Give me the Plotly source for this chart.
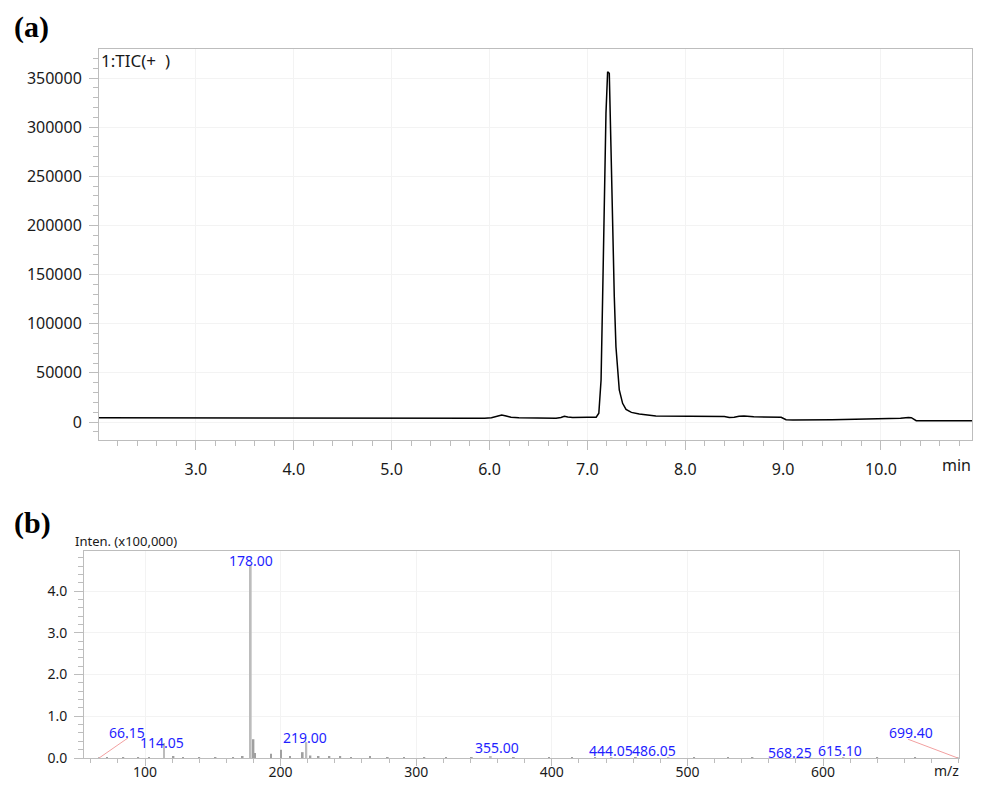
import plotly.graph_objects as go

# ---------------- data ----------------
# (a) TIC chromatogram
tic_time = [2.01, 2.5, 3.0, 3.5, 4.0, 4.5, 5.0, 5.5, 5.95, 6.02, 6.08, 6.125, 6.17, 6.22,
            6.3, 6.5, 6.68, 6.73, 6.765, 6.8, 6.85, 7.0, 7.09, 7.117, 7.14, 7.156, 7.173,
            7.19, 7.207, 7.224, 7.241, 7.258, 7.275, 7.292, 7.31, 7.326, 7.36, 7.395,
            7.45, 7.53, 7.7, 7.9, 8.1, 8.3, 8.4, 8.45, 8.5, 8.55, 8.6, 8.7, 8.9, 8.98,
            9.03, 9.1, 9.5, 10.0, 10.2, 10.28, 10.31, 10.36, 10.5, 10.64, 10.67, 10.7, 10.93]
tic_intensity = [4300, 4200, 4100, 4000, 3900, 3900, 3900, 3800, 3800, 4300, 6200, 7100, 6200, 4800,
                 4300, 3900, 3800, 4600, 5800, 5000, 4700, 4800, 4900, 8900, 42700, 127500, 229000,
                 314000, 356400, 354800, 280000, 195400, 127500, 76600, 49500, 32600, 19000, 12900,
                 9800, 8100, 6100, 5800, 5600, 5500, 5700, 4600, 4800, 5900, 6100, 5400, 5100, 4800,
                 2300, 2100, 2400, 3200, 3800, 4600, 4400, 1300, 1200, 1300, 1800, 1300, 1200]
tic_xticks = [3, 4, 5, 6, 7, 8, 9, 10]
tic_xticklabels = ["3.0", "4.0", "5.0", "6.0", "7.0", "8.0", "9.0", "10.0"]
tic_yticks = [0, 50000, 100000, 150000, 200000, 250000, 300000, 350000]

# (b) mass spectrum (intensity in x100,000)
peak_mz = [66.15, 114.05, 178.00, 219.00, 355.00, 444.05, 486.05, 568.25, 615.10, 699.40]
peak_int = [0.005, 0.36, 4.62, 0.38, 0.03, 0.02, 0.02, 0.01, 0.02, 0.005]
peak_labels = ["66.15", "114.05", "178.00", "219.00", "355.00", "444.05", "486.05",
               "568.25", "615.10", "699.40"]

minor_mz = [72, 84, 95, 103, 121, 128, 140, 152, 165, 172, 180.0, 181.2, 193.0, 200.3, 207,
            216.3, 222, 228, 236, 244, 252, 266, 279, 291, 306, 322, 341, 372, 398, 415,
            432, 462, 505, 530, 548, 590, 640, 668]
minor_int = [0.01, 0.02, 0.01, 0.02, 0.03, 0.02, 0.02, 0.01, 0.02, 0.03, 0.45, 0.12, 0.10, 0.20, 0.03,
             0.14, 0.06, 0.03, 0.04, 0.03, 0.02, 0.03, 0.02, 0.02, 0.01, 0.02, 0.02, 0.01, 0.01, 0.01,
             0.01, 0.01, 0.01, 0.01, 0.01, 0.01, 0.01, 0.01]
ms_xticks = [100, 200, 300, 400, 500, 600]
ms_yticks = [0, 1, 2, 3, 4]

# label placement (data coords of label centres) -- layout only
label_pos = [(86.7, 0.60), (112.2, 0.36), (178.0, 4.74), (218.0, 0.48), (359.6, 0.24),
             (443.6, 0.17), (475.3, 0.17), (575.6, 0.14), (612.5, 0.19), (664.9, 0.60)]
connector_ends = {0: (87.4, 0.48), 9: (662.7, 0.45)}

# page has an 8px body margin; size the figure so it fits the 986x788 window
OFF = 8
W, H = 986 - 2 * OFF, 788 - 2 * OFF
def px(x):
    return (x - OFF) / W
def py(y):
    return 1 - (y - OFF) / H

tick_font_a = dict(family="Noto Sans", size=16, color="#1a1a1a")
tick_font_b = dict(family="Noto Sans", size=14, color="#1a1a1a")
axis_col = "#bdbdbd"
grid_col = "#f3f3f3"

fig = go.Figure()

fig.add_trace(go.Scatter(x=tic_time, y=tic_intensity, mode="lines",
                         line=dict(color="black", width=1.5), xaxis="x", yaxis="y",
                         showlegend=False, hoverinfo="skip"))

fig.add_trace(go.Bar(x=minor_mz, y=minor_int, width=1.3, marker=dict(color="#a0a0a0", line_width=0),
                     xaxis="x2", yaxis="y2", showlegend=False))
fig.add_trace(go.Bar(x=peak_mz, y=peak_int, width=1.3, marker=dict(color="#bcbcbc", line_width=0),
                     xaxis="x2", yaxis="y2", showlegend=False))

for i, (ex, ey) in connector_ends.items():
    fig.add_trace(go.Scatter(x=[peak_mz[i], ex], y=[0, ey], mode="lines",
                             line=dict(color="#f2a0a0", width=1), xaxis="x2", yaxis="y2",
                             showlegend=False, hoverinfo="skip"))

annotations = []
for lab, (lx, ly) in zip(peak_labels, label_pos):
    annotations.append(dict(x=lx, y=ly, xref="x2", yref="y2", text=lab, showarrow=False,
                            xanchor="center", yanchor="middle",
                            font=dict(family="Noto Sans", size=14, color="#1f1fff")))

annotations += [
    dict(x=px(12), y=py(8), xref="paper", yref="paper", text="<b>(a)</b>", showarrow=False,
         xanchor="left", yanchor="top", font=dict(family="Liberation Serif", size=30, color="black")),
    dict(x=px(12), y=py(504), xref="paper", yref="paper", text="<b>(b)</b>", showarrow=False,
         xanchor="left", yanchor="top", font=dict(family="Liberation Serif", size=30, color="black")),
    dict(x=px(99), y=py(60), xref="paper", yref="paper", text="1:TIC(+  )", showarrow=False,
         xanchor="left", yanchor="middle", font=dict(family="Noto Sans", size=17, color="#1a1a1a")),
    dict(x=px(973), y=py(465), xref="paper", yref="paper", text="min", showarrow=False,
         xanchor="right", yanchor="middle", font=dict(family="Noto Sans", size=16, color="#1a1a1a")),
    dict(x=px(73), y=py(541), xref="paper", yref="paper", text="Inten. (x100,000)", showarrow=False,
         xanchor="left", yanchor="middle", font=dict(family="Noto Sans", size=13, color="#1a1a1a")),
    dict(x=px(961), y=py(770), xref="paper", yref="paper", text="m/z", showarrow=False,
         xanchor="right", yanchor="middle", font=dict(family="Noto Sans", size=14, color="#1a1a1a")),
]

common = dict(ticks="outside", tickcolor=axis_col,
              showline=True, linecolor=axis_col, linewidth=1, mirror=True,
              showgrid=True, gridcolor=grid_col, zeroline=False, automargin=False)

fig.update_layout(
    width=W, height=H, autosize=False,
    margin=dict(l=0, r=0, t=0, b=0, pad=0),
    paper_bgcolor="white", plot_bgcolor="white",
    barmode="overlay",
    annotations=annotations,
    xaxis=dict(domain=[px(99), px(972)], anchor="y", range=[2.01, 10.93],
               tickmode="array", tickvals=tic_xticks, ticktext=tic_xticklabels,
               tickfont=tick_font_a, ticklen=9, ticklabelstandoff=6,
               minor=dict(tickmode="linear", tick0=0, dtick=0.2, ticks="outside", ticklen=5,
                          tickcolor=axis_col, showgrid=False), **common),
    yaxis=dict(domain=[py(440), py(49)], anchor="x", range=[-18300, 379500],
               tickmode="array", tickvals=tic_yticks, tickformat="d",
               tickfont=tick_font_a, ticklen=9, ticklabelstandoff=4,
               minor=dict(tickmode="linear", tick0=0, dtick=10000, ticks="outside", ticklen=5,
                          tickcolor=axis_col, showgrid=False), **common),
    xaxis2=dict(domain=[px(84), px(959)], anchor="y2", range=[55, 700.3],
                tickmode="array", tickvals=ms_xticks,
                tickfont=tick_font_b, ticklen=7, ticklabelstandoff=-6,
                minor=dict(tickmode="linear", tick0=0, dtick=20, ticks="outside", ticklen=4,
                           tickcolor=axis_col, showgrid=False), **common),
    yaxis2=dict(domain=[py(758), py(551)], anchor="x2", range=[0, 4.96],
                tickmode="array", tickvals=ms_yticks, tickformat=".1f",
                tickfont=tick_font_b, ticklen=9, ticklabelstandoff=4,
                minor=dict(tickmode="linear", tick0=0, dtick=0.2, ticks="outside", ticklen=5,
                           tickcolor=axis_col, showgrid=False), **common),
)

fig.write_html("out.html")
